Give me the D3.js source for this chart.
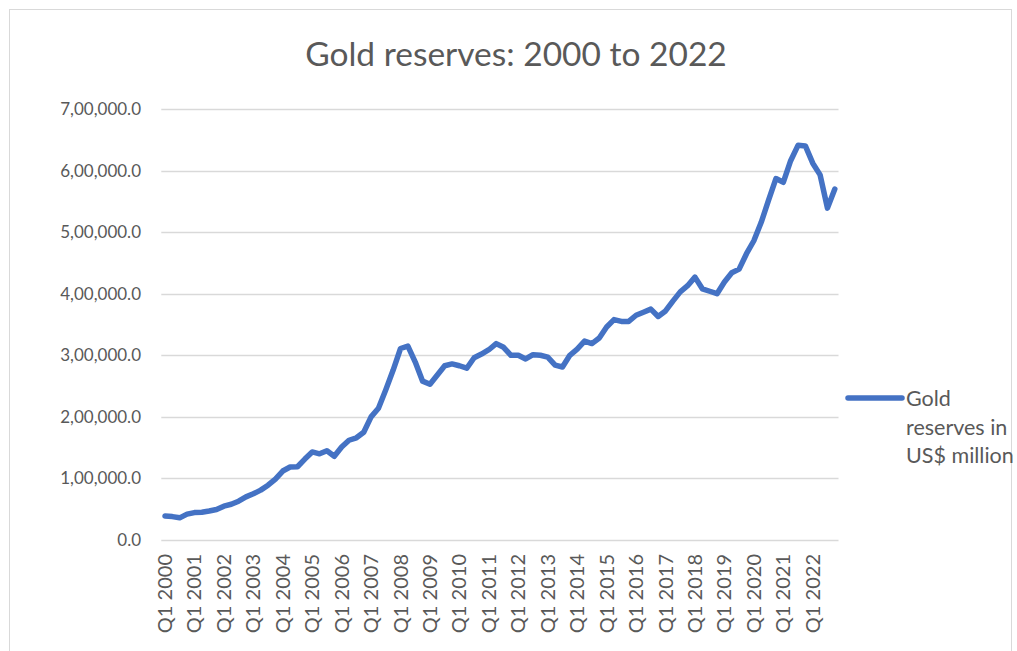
<!DOCTYPE html>
<html>
<head>
<meta charset="utf-8">
<script src="https://cdn.jsdelivr.net/npm/d3@7"></script>
<style>
  html, body { margin: 0; padding: 0; background: #fff; }
  svg { display: block; }
</style>
</head>
<body>
<svg id="chart" width="1017" height="651"></svg>
<script>
// Quarterly gold reserves, US$ million, Q1 2000 – Q4 2022
const years = d3.range(2000, 2023);
const quarters = years.flatMap(y => [1, 2, 3, 4].map(q => `Q${q} ${y}`));
const goldReserves = [
  39000, 38000, 36000, 42000,      // 2000
  44500, 45000, 47000, 49500,      // 2001
  55000, 58000, 63000, 70000,      // 2002
  75000, 81000, 89000, 99000,      // 2003
  112000, 118500, 119000, 131500,  // 2004
  143000, 140000, 145000, 136000,  // 2005
  151000, 162000, 166000, 175000,  // 2006
  200000, 214000, 244000, 276000,  // 2007
  311000, 315000, 289000, 258000,  // 2008
  253000, 268000, 283000, 286000,  // 2009
  283000, 279000, 296000, 302000,  // 2010
  309000, 319000, 313000, 300000,  // 2011
  300000, 294000, 301000, 300000,  // 2012
  297000, 284000, 281000, 300000,  // 2013
  310000, 323000, 319000, 328000,  // 2014
  346000, 358000, 355000, 355000,  // 2015
  365000, 370000, 375000, 363000,  // 2016
  372000, 388000, 403000, 413000,  // 2017
  427000, 408000, 404000, 400000,  // 2018
  419000, 434000, 440000, 465000,  // 2019
  486000, 516000, 552000, 587000,  // 2020
  581000, 616000, 641000, 640000,  // 2021
  612000, 593000, 539000, 570000   // 2022
];
const yTickValues = [0, 100000, 200000, 300000, 400000, 500000, 600000, 700000];
const yTickLabels = ["0.0", "1,00,000.0", "2,00,000.0", "3,00,000.0",
                     "4,00,000.0", "5,00,000.0", "6,00,000.0", "7,00,000.0"];
const xTickLabels = years.map(y => `Q1 ${y}`);
const titleText = "Gold reserves: 2000 to 2022";
const legendLines = ["Gold", "reserves in", "US$ million"];

const FONT = "Lato, 'Open Sans', sans-serif";
const TEXT = "#595959";
const LINE = "#4472C4";
const GRID = "#d9d9d9";

const svg = d3.select("#chart");

// chart frame
svg.append("rect")
  .attr("x", 9.5).attr("y", 9.5)
  .attr("width", 1002).attr("height", 680)
  .attr("fill", "none").attr("stroke", GRID).attr("stroke-width", 1);

const plot = { left: 161.3, right: 838.5, top: 109, bottom: 540 };

const x = d3.scaleBand()
  .domain(quarters)
  .range([plot.left, plot.right]);
const xc = d => x(d) + x.bandwidth() / 2;

const y = d3.scaleLinear()
  .domain([0, 700000])
  .range([plot.bottom, plot.top]);

// horizontal gridlines
svg.append("g")
  .selectAll("line")
  .data(yTickValues)
  .join("line")
  .attr("x1", plot.left).attr("x2", plot.right)
  .attr("y1", d => Math.round(y(d)) + 0.5).attr("y2", d => Math.round(y(d)) + 0.5)
  .attr("stroke", GRID).attr("stroke-width", 1.3);

// y axis labels
const yAxis = d3.axisLeft(y)
  .tickValues(yTickValues)
  .tickFormat((d, i) => yTickLabels[i])
  .tickSize(0)
  .tickPadding(0);
svg.append("g")
  .attr("transform", `translate(141,0)`)
  .call(yAxis)
  .call(g => g.select(".domain").remove())
  .call(g => g.selectAll("text")
    .attr("fill", TEXT)
    .style("font-family", FONT)
    .style("font-size", "17px"));

// x axis labels, rotated
const xAxis = d3.axisBottom(x)
  .tickValues(xTickLabels)
  .tickSize(0)
  .tickPadding(0);
svg.append("g")
  .attr("transform", `translate(0,${plot.bottom})`)
  .call(xAxis)
  .call(g => g.select(".domain").remove())
  .call(g => g.selectAll("text")
    .attr("fill", TEXT)
    .style("font-family", FONT)
    .style("font-size", "20px")
    .attr("text-anchor", "end")
    .attr("dy", "0.35em")
    .attr("y", 0)
    .attr("transform", "translate(0,14) rotate(-90)"));

// data line
const line = d3.line()
  .x((d, i) => xc(quarters[i]))
  .y(d => y(d))
  .curve(d3.curveLinear);

svg.append("path")
  .datum(goldReserves)
  .attr("d", line)
  .attr("fill", "none")
  .attr("stroke", LINE)
  .attr("stroke-width", 5.5)
  .attr("stroke-linejoin", "round")
  .attr("stroke-linecap", "round");

// title
svg.append("text")
  .attr("x", 516).attr("y", 66)
  .attr("text-anchor", "middle")
  .attr("fill", TEXT)
  .style("font-family", FONT)
  .style("font-size", "33.5px")
  .text(titleText);

// legend
const legend = svg.append("g");
legend.append("line")
  .attr("x1", 848).attr("x2", 902)
  .attr("y1", 398).attr("y2", 398)
  .attr("stroke", LINE).attr("stroke-width", 5.5)
  .attr("stroke-linecap", "round");
legend.selectAll("text")
  .data(legendLines)
  .join("text")
  .attr("x", 906)
  .attr("y", (d, i) => 406 + i * 28.5)
  .attr("fill", TEXT)
  .style("font-family", FONT)
  .style("font-size", "21.5px")
  .text(d => d);
</script>
</body>
</html>
